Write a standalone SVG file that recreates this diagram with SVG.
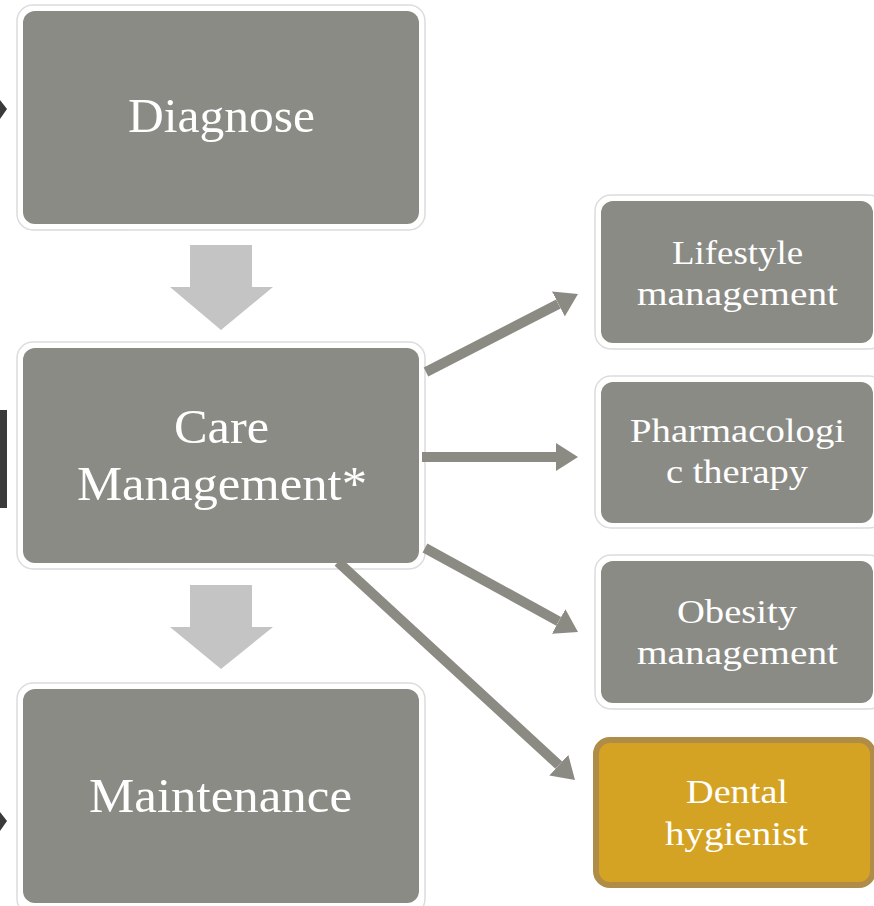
<svg xmlns="http://www.w3.org/2000/svg" width="874" height="906" viewBox="0 0 874 906">
  <style>
    .outer { fill: #ffffff; stroke: #dcdcdc; stroke-width: 1.5; }
    .inner { fill: #8b8b85; }
    .big { font-family: "Liberation Serif", "Times New Roman", serif; font-size: 48px; fill: #ffffff; text-anchor: middle; }
    .small { font-family: "Liberation Serif", "Times New Roman", serif; font-size: 33px; fill: #ffffff; text-anchor: middle; }
    .down { fill: #c4c4c4; }
    .conn { stroke: #8b8b84; stroke-width: 10; fill: none; marker-end: url(#head); }
    .artifact { fill: #3a3a3a; }
    .shadow { stroke: #e2e2e2; stroke-width: 2; }
  </style>
  <defs>
    <marker id="head" viewBox="0 0 10 10" refX="0" refY="5" markerWidth="2.2" markerHeight="2.8" markerUnits="strokeWidth" orient="auto" preserveAspectRatio="none">
      <path d="M0,0 L10,5 L0,10 Z" fill="#8b8b84"/>
    </marker>
  </defs>
  <rect width="874" height="906" fill="#ffffff"/>

  <g id="edge-artifacts">
    <polygon class="artifact" points="0,100 7,109 0,119"/>
    <rect class="artifact" x="0" y="410" width="7" height="98"/>
    <polygon class="artifact" points="0,812 7,821 0,831"/>
  </g>

  <g id="diagnose">
    <rect class="outer" x="17" y="5" width="408" height="225" rx="16"/>
    <line class="shadow" x1="33" y1="230" x2="127" y2="230"/>
    <rect class="inner" x="23" y="11" width="396" height="213" rx="12"/>
    <text class="big" x="221.5" y="132" textLength="187" lengthAdjust="spacingAndGlyphs">Diagnose</text>
  </g>

  <g id="down-arrow-1">
    <polygon class="down" points="190,245 252,245 252,287 273,287 221,330 170,287 190,287"/>
  </g>

  <g id="care-management">
    <rect class="outer" x="17" y="342" width="408" height="227" rx="16"/>
    <line class="shadow" x1="33" y1="569" x2="127" y2="569"/>
    <rect class="inner" x="23" y="348" width="396" height="215" rx="12"/>
    <text class="big" x="221.5" y="443" textLength="95" lengthAdjust="spacingAndGlyphs">Care</text>
    <text class="big" x="222" y="500" textLength="290" lengthAdjust="spacingAndGlyphs">Management*</text>
  </g>

  <g id="down-arrow-2">
    <polygon class="down" points="190,585 252,585 252,627 273,627 221,669 170,627 190,627"/>
  </g>

  <g id="maintenance">
    <rect class="outer" x="17" y="683" width="408" height="232" rx="16"/>
    <rect class="inner" x="23" y="689" width="396" height="214" rx="12"/>
    <text class="big" x="220.5" y="812" textLength="263" lengthAdjust="spacingAndGlyphs">Maintenance</text>
  </g>

  <g id="lifestyle-management">
    <rect class="outer" x="595" y="195" width="290" height="154" rx="16"/>
    <rect class="inner" x="601" y="201" width="272" height="142" rx="12"/>
    <text class="small" x="737.5" y="264" textLength="131" lengthAdjust="spacingAndGlyphs">Lifestyle</text>
    <text class="small" x="737.5" y="305" textLength="201" lengthAdjust="spacingAndGlyphs">management</text>
  </g>

  <g id="pharmacologic-therapy">
    <rect class="outer" x="595" y="376" width="290" height="152" rx="16"/>
    <rect class="inner" x="601" y="382" width="272" height="141" rx="12"/>
    <text class="small" x="737.5" y="442" textLength="215" lengthAdjust="spacingAndGlyphs">Pharmacologi</text>
    <text class="small" x="737" y="483" textLength="142" lengthAdjust="spacingAndGlyphs">c therapy</text>
  </g>

  <g id="obesity-management">
    <rect class="outer" x="595" y="555" width="290" height="154" rx="16"/>
    <rect class="inner" x="601" y="561" width="272" height="142" rx="12"/>
    <text class="small" x="737" y="623" textLength="120" lengthAdjust="spacingAndGlyphs">Obesity</text>
    <text class="small" x="737.5" y="664" textLength="201" lengthAdjust="spacingAndGlyphs">management</text>
  </g>

  <g id="dental-hygienist">
    <rect x="596" y="740" width="277" height="145" rx="14" fill="#d5a323" stroke="#af8c47" stroke-width="6"/>
    <text class="small" x="737" y="803" textLength="102" lengthAdjust="spacingAndGlyphs">Dental</text>
    <text class="small" x="736.5" y="845" textLength="143" lengthAdjust="spacingAndGlyphs">hygienist</text>
  </g>

  <g id="connectors">
    <line class="conn" x1="426" y1="372" x2="558.4" y2="304"/>
    <line class="conn" x1="422" y1="457" x2="556" y2="457"/>
    <line class="conn" x1="425" y1="548" x2="558.7" y2="621.4"/>
    <line class="conn" x1="338" y1="562" x2="558.8" y2="765.1"/>
  </g>
</svg>
